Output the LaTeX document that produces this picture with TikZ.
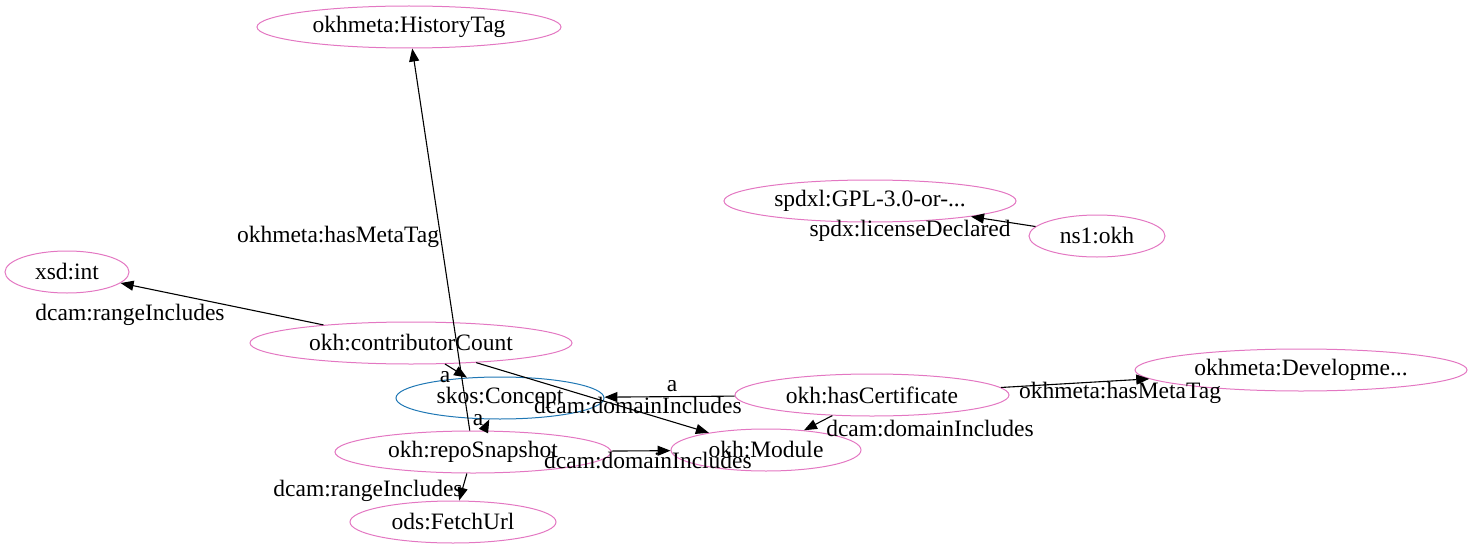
\documentclass[tikz,border=0pt]{standalone}
\usepackage{fontspec}
\setmainfont{Liberation Serif}
\usetikzlibrary{shapes.geometric,arrows.meta}
\definecolor{nodepink}{HTML}{E377C2}
\definecolor{nodeblue}{HTML}{1F77B4}

\begin{document}
\begin{tikzpicture}[x=1pt, y=-1pt, line width=1.1pt,
    every node/.style={font=\fontsize{23.5}{28}\selectfont},
    term/.style={ellipse, draw=nodepink, line width=1pt, inner sep=0pt, minimum height=42pt},
    concept/.style={term, draw=nodeblue},
    rel/.style={draw=black, -{Triangle[length=13pt,width=10pt]}},
    lbl/.style={inner sep=0pt}]
    \useasboundingbox (0,0) rectangle (1472,551);
    % terms
    \node[term, minimum width=304pt] (histtag) at (409,27) {okhmeta:HistoryTag};
    \node[term, minimum width=124pt] (xsdint) at (67,272) {xsd:int};
    \node[term, minimum width=292pt] (gpl) at (870,201) {spdxl:GPL-3.0-or-...};
    \node[term, minimum width=136pt] (okh) at (1097,236) {ns1:okh};
    \node[term, minimum width=322pt] (contrib) at (411,343) {okh:contributorCount};
    \node[concept, minimum width=208pt] (concept) at (500,398) {skos:Concept};
    \node[term, minimum width=274pt] (hascert) at (872,395) {okh:hasCertificate};
    \node[term, minimum width=332pt] (devtag) at (1301,370) {okhmeta:Developme...};
    \node[term, minimum width=276pt] (snapshot) at (473,452) {okh:repoSnapshot};
    \node[term, minimum width=190pt] (module) at (766,450) {okh:Module};
    \node[term, minimum width=206pt] (fetchurl) at (453,522) {ods:FetchUrl};
    % edge labels
    \node[lbl] (l-snap-hist) at (338,237) {okhmeta:hasMetaTag};
    \node[lbl] (l-contrib-int) at (130,315) {dcam:rangeIncludes};
    \node[lbl] (l-contrib-concept) at (445,377) {a};
    \node[lbl] (l-contrib-module) at (638,406) {dcam:domainIncludes};
    \node[lbl] (l-snap-concept) at (478,420) {a};
    \node[lbl] (l-snap-module) at (648,461) {dcam:domainIncludes};
    \node[lbl] (l-snap-fetch) at (368,491) {dcam:rangeIncludes};
    \node[lbl] (l-cert-concept) at (672,386) {a};
    \node[lbl] (l-cert-module) at (930,429) {dcam:domainIncludes};
    \node[lbl] (l-cert-dev) at (1120,393) {okhmeta:hasMetaTag};
    \node[lbl] (l-okh-gpl) at (910,231) {spdx:licenseDeclared};
    % edges
    \draw[rel] (snapshot) -- (histtag);
    \draw[rel] (contrib) -- (xsdint);
    \draw[rel] (contrib) -- (concept);
    \draw[rel] (contrib) -- (module);
    \draw[rel] (snapshot) -- (concept);
    \draw[rel] (snapshot) -- (module);
    \draw[rel] (snapshot) -- (fetchurl);
    \draw[rel] (hascert) -- (concept);
    \draw[rel] (hascert) -- (module);
    \draw[rel] (hascert) -- (devtag);
    \draw[rel] (okh) -- (gpl);
\end{tikzpicture}
\end{document}
